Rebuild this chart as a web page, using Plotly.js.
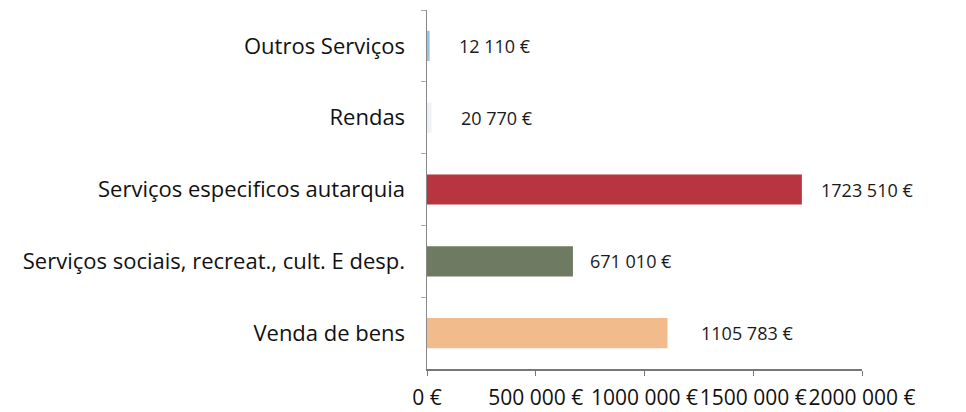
<!DOCTYPE html>
<html><head><meta charset="utf-8">
<script src="https://cdn.plot.ly/plotly-3.0.1.min.js"></script>
<style>html,body{margin:0;padding:0;background:#fff}#chart{width:966px;height:412px}</style>
</head><body><div id="chart"></div>
<script>
const categories = ['Outros Serviços', 'Rendas', 'Serviços especificos autarquia', 'Serviços sociais, recreat., cult. E desp.', 'Venda de bens'];
const values = [12110, 20770, 1723510, 671010, 1105783];
const barColors = ['#9cc0e0', '#eef2f6', '#b8343f', '#6e7a62', '#f2bb8c'];
const tickVals = [0, 500000, 1000000, 1500000, 2000000];
const tickText = ['0 €', '500 000 €', '1000 000 €', '1500 000 €', '2000 000 €'];

// pixel offsets of the value labels from the bar ends (style, not data)
const labelShift = [27, 27, 17, 15, 31];

function fmt(v){ const s = String(v); return s.length > 3 ? s.slice(0, s.length-3) + ' ' + s.slice(-3) + ' €' : s + ' €'; }

const fam = '"Open Sans", "Noto Sans", sans-serif';

const trace = {
  type: 'bar', orientation: 'h', x: values, y: categories,
  marker: {color: barColors}, width: 0.42, hoverinfo: 'skip'
};

const annotations = values.map((v, i) => ({
  x: v, y: categories[i], xref: 'x', yref: 'y', text: fmt(v), showarrow: false,
  xanchor: 'left', xshift: labelShift[i], font: {family: fam, size: 18, color: '#1a1a1a'}
}));

const layout = {
  width: 966, height: 412,
  margin: {l: 427, r: 104, t: 10, b: 43},
  paper_bgcolor: '#fff', plot_bgcolor: '#fff',
  font: {family: fam, size: 18, color: '#111'}, showlegend: false,
  xaxis: {range: [0, 2000000], tickvals: tickVals, ticktext: tickText, tickangle: 0, showgrid: false, zeroline: false,
    showline: true, linecolor: '#777', linewidth: 1.5, ticks: 'outside', ticklen: 5, tickcolor: '#777',
    ticklabelstandoff: 4, tickfont: {family: fam, size: 21, color: '#111'}, fixedrange: true},
  yaxis: {type: 'category', autorange: 'reversed', showgrid: false, zeroline: false, showline: true,
    linecolor: '#888', linewidth: 1.5, ticks: 'outside', ticklen: 5, tickcolor: '#aaa', tickson: 'boundaries',
    ticklabelstandoff: 16, tickfont: {family: fam, size: 22, color: '#111'}, fixedrange: true},
  annotations: annotations
};

Plotly.newPlot('chart', [trace], layout, {displayModeBar: false, staticPlot: true});
</script></body></html>
